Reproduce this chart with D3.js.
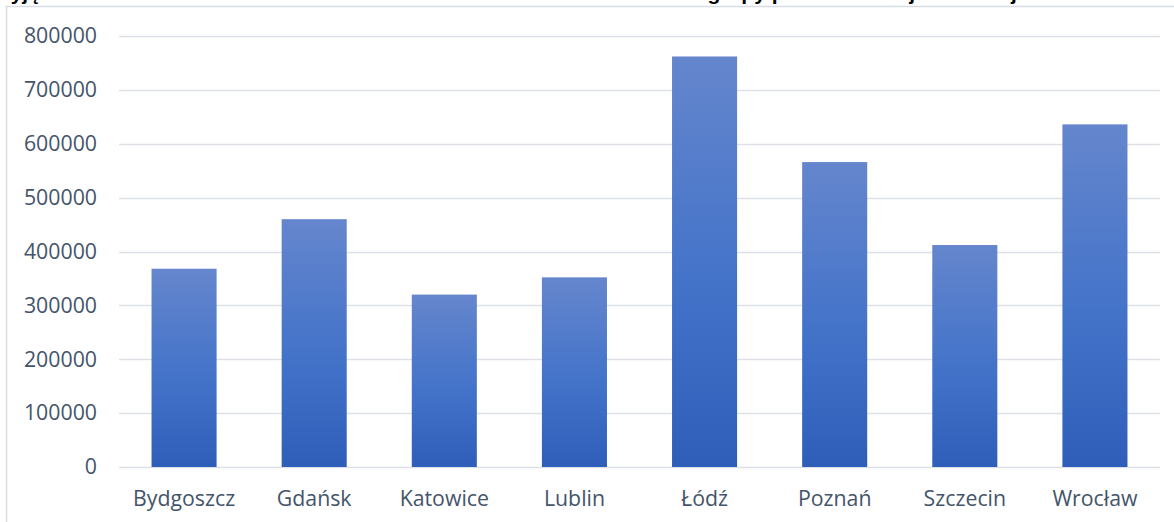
<!DOCTYPE html>
<html>
<head>
<meta charset="utf-8">
<script src="https://cdn.jsdelivr.net/npm/d3@7"></script>
<style>
  html, body { margin: 0; padding: 0; background: #fff; overflow: hidden; }
  svg { display: block; }
  .tick-label { font-family: "Open Sans", sans-serif; font-size: 21.3px; fill: #44546a; }
  #title { font-family: "Liberation Sans", Arial, sans-serif; font-size: 21px; font-weight: bold; fill: #000; }
</style>
</head>
<body>
<div id="chart"></div>
<script>
// data
const cities = ["Bydgoszcz", "Gdańsk", "Katowice", "Lublin", "Łódź", "Poznań", "Szczecin", "Wrocław"];
const population = [368000, 460000, 320000, 352000, 762000, 566000, 412000, 636000];
const yTicks = [0, 100000, 200000, 300000, 400000, 500000, 600000, 700000, 800000];
const titleText = "Przyjęta liczba mieszkańców miast Polski na koniec roku 2005 w ramach grupy porównawczej miast wojewódzkich";

let options = {
  width: 1174,
  height: 522,
  margins: { top: 36, right: 14, bottom: 55, left: 119 }
};

function renderChart() {
  let svg = d3.select("#chart")
              .append("svg")
              .attr("width", options.width)
              .attr("height", options.height);

  let defs = svg.append("defs");
  let grad = defs.append("linearGradient")
                 .attr("id", "barFill")
                 .attr("x1", 0).attr("y1", 0)
                 .attr("x2", 0).attr("y2", 1);
  grad.append("stop").attr("offset", "0%").attr("stop-color", "#6586cd");
  grad.append("stop").attr("offset", "55%").attr("stop-color", "#4373c9");
  grad.append("stop").attr("offset", "100%").attr("stop-color", "#2f5eb9");

  // chart area border (cut by the window)
  svg.append("rect")
     .attr("x", 6.5).attr("y", 6.5)
     .attr("width", options.width + 20)
     .attr("height", options.height + 20)
     .attr("fill", "none")
     .attr("stroke", "#d9dde3")
     .attr("stroke-width", 1.5);

  // title, mostly above the visible area (the reference is cut there too)
  svg.append("text")
     .attr("id", "title")
     .attr("x", -22)
     .attr("y", -0.5)
     .text(titleText);

  let x0 = options.margins.left;
  let x1 = options.width - options.margins.right;
  let yBottom = 467;

  let xScale = d3.scaleBand()
                 .domain(cities)
                 .range([x0, x1])
                 .paddingInner(0.5)
                 .paddingOuter(0.25);

  let yScale = d3.scaleLinear()
                 .domain([0, 800000])
                 .range([yBottom, options.margins.top]);

  // gridlines
  svg.append("g")
     .selectAll("line")
     .data(yTicks)
     .enter()
     .append("line")
     .attr("x1", x0)
     .attr("x2", x1)
     .attr("y1", d => Math.round(yScale(d)) + 0.5)
     .attr("y2", d => Math.round(yScale(d)) + 0.5)
     .attr("stroke", "#dde1e7")
     .attr("stroke-width", 1.4);

  // y axis labels
  let yAxis = d3.axisLeft(yScale)
                .tickValues(yTicks)
                .tickSize(0)
                .tickPadding(22)
                .tickFormat(d3.format("d"));
  let yg = svg.append("g")
              .attr("transform", `translate(${x0},0)`)
              .call(yAxis);
  yg.select(".domain").remove();
  yg.selectAll("text")
    .attr("class", "tick-label")
    .attr("font-family", null)
    .attr("font-size", null)
    .attr("fill", null);

  // bars
  svg.append("g")
     .selectAll("rect")
     .data(cities)
     .enter()
     .append("rect")
     .attr("x", d => xScale(d))
     .attr("width", xScale.bandwidth())
     .attr("y", (d, i) => yScale(population[i]))
     .attr("height", (d, i) => yBottom - yScale(population[i]))
     .attr("fill", "url(#barFill)");

  // x axis labels
  let xAxis = d3.axisBottom(xScale)
                .tickSize(0)
                .tickPadding(24);
  let xg = svg.append("g")
              .attr("transform", `translate(0,${yBottom})`)
              .call(xAxis);
  xg.select(".domain").remove();
  xg.selectAll("text")
    .attr("class", "tick-label")
    .attr("font-family", null)
    .attr("font-size", null)
    .attr("fill", null);
}

document.addEventListener("DOMContentLoaded", renderChart);
</script>
</body>
</html>
